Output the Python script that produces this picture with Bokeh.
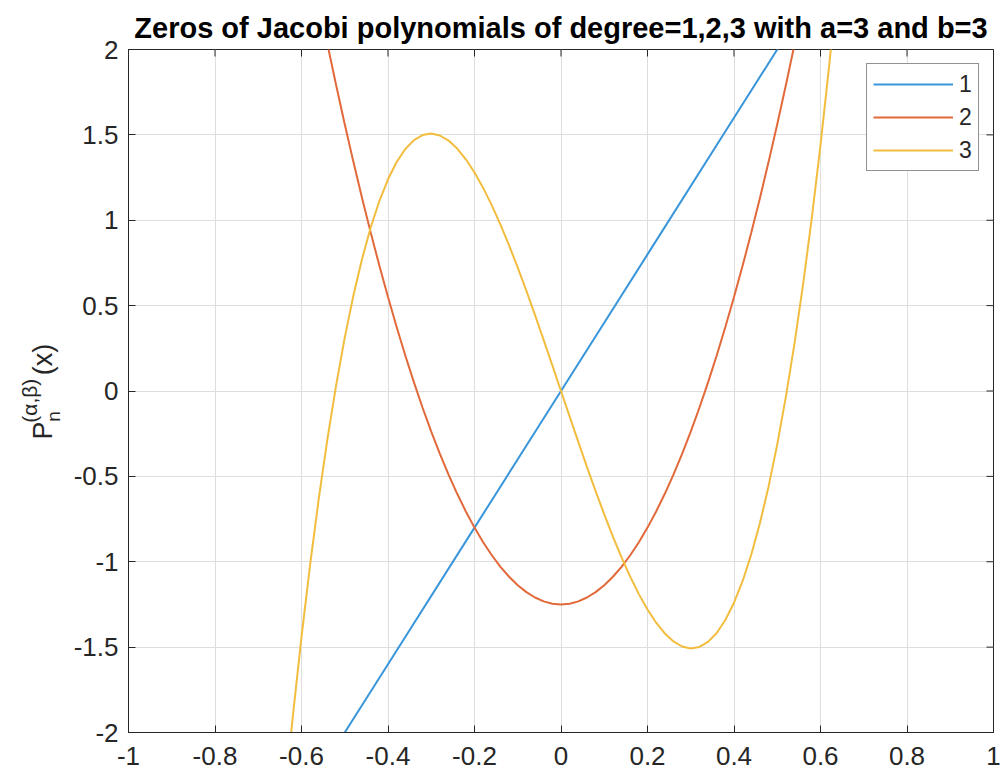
import math
from bokeh.plotting import figure
from bokeh.models import Range1d, FixedTicker
from bokeh.layouts import row
from bokeh.embed import file_html
from bokeh.resources import INLINE
from bokeh.core.properties import value

# ---------------- data ----------------
x_vals = [-0.64, -0.62, -0.60, -0.58, -0.56, -0.54, -0.52, -0.50, -0.48, -0.46, -0.44,
          -0.42, -0.40, -0.38, -0.36, -0.34, -0.32, -0.30, -0.28, -0.26, -0.24, -0.22,
          -0.20, -0.18, -0.16, -0.14, -0.12, -0.10, -0.08, -0.06, -0.04, -0.02, 0.0,
          0.02, 0.04, 0.06, 0.08, 0.10, 0.12, 0.14, 0.16, 0.18, 0.20, 0.22, 0.24,
          0.26, 0.28, 0.30, 0.32, 0.34, 0.36, 0.38, 0.40, 0.42, 0.44, 0.46, 0.48,
          0.50, 0.52, 0.54, 0.56, 0.58, 0.60, 0.62, 0.64]

deg1_x = [-0.6, -0.4, -0.2, 0.0, 0.2, 0.4, 0.6]
deg1_y = [-2.4, -1.6, -0.8, 0.0, 0.8, 1.6, 2.4]

deg2_y = [3.358, 3.0745, 2.8, 2.5345, 2.278, 2.0305, 1.792, 1.5625, 1.342, 1.1305, 0.928,
          0.7345, 0.55, 0.3745, 0.208, 0.0505, -0.098, -0.2375, -0.368, -0.4895, -0.602,
          -0.7055, -0.8, -0.8855, -0.962, -1.0295, -1.088, -1.1375, -1.178, -1.2095,
          -1.232, -1.2455, -1.25,
          -1.2455, -1.232, -1.2095, -1.178, -1.1375, -1.088, -1.0295, -0.962, -0.8855,
          -0.8, -0.7055, -0.602, -0.4895, -0.368, -0.2375, -0.098, 0.0505, 0.208, 0.3745,
          0.55, 0.7345, 0.928, 1.1305, 1.342, 1.5625, 1.792, 2.0305, 2.278, 2.5345, 2.8,
          3.0745, 3.358]

deg3_y = [-2.409, -1.904, -1.44, -1.0156, -0.6294, -0.2803, 0.0333, 0.3125, 0.5587,
          0.7733, 0.9574, 1.1126, 1.24, 1.341, 1.417, 1.4691, 1.4989, 1.5075, 1.4963,
          1.4667, 1.4198, 1.3572, 1.28, 1.1896, 1.0874, 0.9745, 0.8525, 0.7225, 0.5859,
          0.4441, 0.2982, 0.1498, 0.0,
          -0.1498, -0.2982, -0.4441, -0.5859, -0.7225, -0.8525, -0.9745, -1.0874, -1.1896,
          -1.28, -1.3572, -1.4198, -1.4667, -1.4963, -1.5075, -1.4989, -1.4691, -1.417,
          -1.341, -1.24, -1.1126, -0.9574, -0.7733, -0.5587, -0.3125, -0.0333, 0.2803,
          0.6294, 1.0156, 1.44, 1.904, 2.409]

series_names = ["1", "2", "3"]
series_colors = ["#3A96DA", "#E2693A", "#F2BD3E"]

x_ticks = [-1, -0.8, -0.6, -0.4, -0.2, 0, 0.2, 0.4, 0.6, 0.8, 1]
x_tick_labels = ["-1", "-0.8", "-0.6", "-0.4", "-0.2", "0", "0.2", "0.4", "0.6", "0.8", "1"]
y_ticks = [-2, -1.5, -1, -0.5, 0, 0.5, 1, 1.5, 2]
y_tick_labels = ["-2", "-1.5", "-1", "-0.5", "0", "0.5", "1", "1.5", "2"]

title_text = "Zeros of Jacobi polynomials of degree=1,2,3 with a=3 and b=3"
ylabel_main = "P"
ylabel_sub = "n"
ylabel_sup = "(α,β)"
ylabel_arg = "(x)"

FONT = "Liberation Sans"
AX = "#262626"
LABEL_W = 70
H = 776

# ---------------- y-axis label panel (P_n^(alpha,beta)(x)) ----------------
lab = figure(width=LABEL_W, height=H, x_range=Range1d(0, LABEL_W), y_range=Range1d(H, 0),
             output_backend="svg", toolbar_location=None,
             x_axis_location=None, y_axis_location=None,
             min_border=0, min_border_left=0, min_border_right=0,
             min_border_top=0, min_border_bottom=0)
lab.outline_line_color = None
lab.grid.visible = False
rot = math.pi / 2
lab.text(x=[42], y=[443], text=[ylabel_main], angle=rot, text_align="left",
         text_baseline="alphabetic", text_font=value(FONT), text_font_size="27px",
         text_color=AX)
lab.text(x=[53], y=[423], text=[ylabel_sub], angle=rot, text_align="left",
         text_baseline="alphabetic", text_font=value(FONT), text_font_size="19px",
         text_color=AX)
lab.text(x=[29], y=[424], text=[ylabel_sup], angle=rot, text_align="left",
         text_baseline="alphabetic", text_font=value(FONT), text_font_size="21px",
         text_color=AX)
lab.text(x=[42], y=[370], text=[ylabel_arg], angle=rot, text_align="left",
         text_baseline="alphabetic", text_font=value(FONT), text_font_size="27px",
         text_color=AX)

# ---------------- main figure ----------------
p = figure(width=1002 - LABEL_W, height=H,
           x_range=Range1d(-1, 1), y_range=Range1d(-2, 2),
           output_backend="svg", toolbar_location=None,
           min_border_left=126 - LABEL_W, min_border_top=49, min_border_right=9,
           min_border_bottom=44,
           background_fill_color="white", border_fill_color="white")
p.outline_line_color = AX
p.outline_line_width = 1

p.title.text = title_text
p.title.align = "center"
p.title.text_font = FONT
p.title.text_font_size = "29px"
p.title.text_font_style = "bold"
p.title.text_color = "black"
p.title.standoff = 12

for ax in (p.xaxis[0], p.yaxis[0]):
    ax.axis_line_color = AX
    ax.axis_line_width = 1
    ax.major_tick_line_color = AX
    ax.major_tick_in = 7
    ax.major_tick_out = 0
    ax.minor_tick_line_color = None
    ax.major_label_text_font = FONT
    ax.major_label_text_color = AX
    ax.major_label_text_font_size = "26px"

p.xaxis.ticker = FixedTicker(ticks=x_ticks)
p.yaxis.ticker = FixedTicker(ticks=y_ticks)
p.xaxis.major_label_overrides = {t: s for t, s in zip(x_ticks, x_tick_labels)}
p.yaxis.major_label_overrides = {t: s for t, s in zip(y_ticks, y_tick_labels)}
p.xaxis.major_label_standoff = 14
p.yaxis.major_label_standoff = 10

p.xgrid.ticker = FixedTicker(ticks=x_ticks)
p.ygrid.ticker = FixedTicker(ticks=y_ticks)
p.grid.grid_line_color = "#DEDEDE"
p.grid.grid_line_width = 1

# inward ticks on the top and right edges of the box (outer half is clipped by the frame)
p.scatter(x=x_ticks, y=[y_ticks[-1]] * len(x_ticks), marker="dash", angle=math.pi / 2,
          size=14, line_color=AX, line_width=1)
p.scatter(x=[x_ticks[-1]] * len(y_ticks), y=y_ticks, marker="dash",
          size=14, line_color=AX, line_width=1)

# ---------------- lines ----------------
p.line(deg1_x, deg1_y, line_color=series_colors[0], line_width=2, legend_label=series_names[0])
p.line(x_vals, deg2_y, line_color=series_colors[1], line_width=2, legend_label=series_names[1])
p.line(x_vals, deg3_y, line_color=series_colors[2], line_width=2, legend_label=series_names[2])

lg = p.legend[0]
lg.location = "top_right"
lg.margin = 14
lg.padding = 6
lg.spacing = 5
lg.glyph_width = 80
lg.glyph_height = 28
lg.label_height = 28
lg.label_width = 13
lg.label_standoff = 6
lg.label_text_font = FONT
lg.label_text_font_size = "23px"
lg.label_text_color = AX
lg.border_line_color = AX
lg.border_line_width = 1
lg.background_fill_color = "white"
lg.background_fill_alpha = 1.0

layout = row(lab, p, spacing=0)
open("out.html", "w").write(file_html(layout, INLINE))
